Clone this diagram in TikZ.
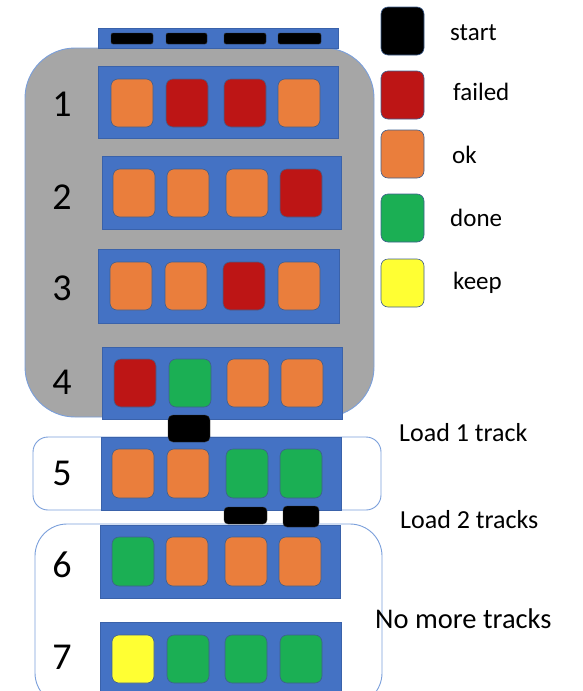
\documentclass[tikz,border=0pt]{standalone}
\usepackage{fontspec}
\setmainfont{Carlito}
\definecolor{tblue}{HTML}{4472C4}
\definecolor{tblueedge}{HTML}{3A62AA}
\definecolor{boxedge}{HTML}{7A9FDB}
\definecolor{tgray}{HTML}{A6A6A6}
\definecolor{cok}{HTML}{EA7E3C}
\definecolor{cfail}{HTML}{BD1515}
\definecolor{cdone}{HTML}{1BAF54}
\definecolor{ckeep}{HTML}{FFFF33}
\definecolor{cedge}{HTML}{3F5F8F}
\tikzset{
  cell/.style={draw=cedge, line width=0.6pt, rounded corners=7pt, minimum width=42pt, minimum height=48pt, anchor=north west, inner sep=0pt, outer sep=0pt},
  lcell/.style={cell, minimum width=43pt},
  trackbar/.style={fill=tblue, draw=tblueedge, line width=0.5pt},
  num/.style={font=\fontsize{38}{40}\selectfont, anchor=center, inner sep=0pt},
  legtxt/.style={font=\fontsize{25}{28}\selectfont, anchor=west, inner sep=0pt},
  sidetxt/.style={font=\fontsize{26}{28}\selectfont, anchor=west, inner sep=0pt},
  slot/.style={fill=black, draw=black!80, rounded corners=3pt, inner sep=0pt, outer sep=0pt, anchor=north west},
  group/.style={draw=boxedge, line width=0.9pt}
}
\begin{document}
\begin{tikzpicture}[x=1pt,y=-1pt]
\useasboundingbox (0,0) rectangle (583,691);
\begin{scope}
\clip (0,0) rectangle (583,691);
% gray group 1-4
\path[group, fill=tgray, rounded corners=50pt] (25,48) rectangle (374,417);
% white group 5
\path[group, fill=white, rounded corners=15pt] (33,437) rectangle (381,510);
% white group 6-7
\path[group, fill=white, rounded corners=32pt] (35,524) rectangle (382,705);
% top bar
\path[trackbar] (98,28) rectangle (338,48);
\foreach \x/\w [count=\i] in {111/42,166/41,224/42,278/43}
  \node[slot, minimum width=\w pt, minimum height=11pt, rounded corners=2pt] (top\i) at (\x,33) {};
% rows
\path[trackbar] (98,66) rectangle (338,138);
\path[trackbar] (102,156) rectangle (341,229);
\path[trackbar] (98,249) rectangle (339,323);
\path[trackbar] (102,347) rectangle (342,419);
\path[trackbar] (101,437) rectangle (341,510);
\path[trackbar] (100,525) rectangle (340,598);
\path[trackbar] (100,622) rectangle (341,705);
% cells
\foreach \x/\c [count=\i] in {111/cok,166/cfail,224/cfail,278/cok}
  \node[cell, fill=\c] (a\i) at (\x,79) {};
\foreach \x/\c [count=\i] in {113/cok,167/cok,226/cok,280/cfail}
  \node[cell, fill=\c] (b\i) at (\x,169) {};
\foreach \x/\c [count=\i] in {110/cok,165/cok,223/cfail,278/cok}
  \node[cell, fill=\c] (c\i) at (\x,262) {};
\foreach \x/\c [count=\i] in {114/cfail,169/cdone,227/cok,281/cok}
  \node[cell, fill=\c] (d\i) at (\x,359) {};
\foreach \x/\c [count=\i] in {112/cok,167/cok,226/cdone,280/cdone}
  \node[cell, fill=\c, minimum height=49pt] (e\i) at (\x,449) {};
\foreach \x/\c [count=\i] in {112/cdone,166/cok,225/cok,279/cok}
  \node[cell, fill=\c, minimum height=49pt] (f\i) at (\x,537) {};
\foreach \x/\c [count=\i] in {112/ckeep,167/cdone,225/cdone,280/cdone}
  \node[cell, fill=\c] (g\i) at (\x,635) {};
% connectors (loaders)
\node[slot, minimum width=42pt, minimum height=27pt, rounded corners=5pt] (load1) at (168,415) {};
\node[slot, minimum width=43pt, minimum height=17pt, rounded corners=4pt] (load2a) at (224,507) {};
\node[slot, minimum width=36pt, minimum height=21pt, rounded corners=4pt] (load2b) at (283,506) {};
\end{scope}
% numbers
\node[num] (n1) at (62,104) {1};
\node[num] (n2) at (62,197) {2};
\node[num] (n3) at (62,288) {3};
\node[num] (n4) at (62,382) {4};
\node[num] (n5) at (62,473) {5};
\node[num] (n6) at (62,565) {6};
\node[num] (n7) at (62,657) {7};
% legend
\node[lcell, fill=black] (kstart) at (381,7) {};
\node[lcell, fill=cfail] (kfail) at (381,71) {};
\node[lcell, fill=cok] (kok) at (381,130) {};
\node[lcell, fill=cdone] (kdone) at (381,194) {};
\node[lcell, fill=ckeep] (kkeep) at (381,259) {};
\node[legtxt] (tstart) at (450,33) {start};
\node[legtxt] (tfail) at (453,92) {failed};
\node[legtxt] (tok) at (452,155) {ok};
\node[legtxt] (tdone) at (450,218) {done};
\node[legtxt] (tkeep) at (453,283) {keep};
% side texts
\node[sidetxt] (s1) at (399,433) {Load 1 track};
\node[sidetxt] (s2) at (400,520) {Load 2 tracks};
\node[sidetxt, font=\fontsize{28.5}{30}\selectfont] (s3) at (375,619) {No more tracks};
\end{tikzpicture}
\end{document}
